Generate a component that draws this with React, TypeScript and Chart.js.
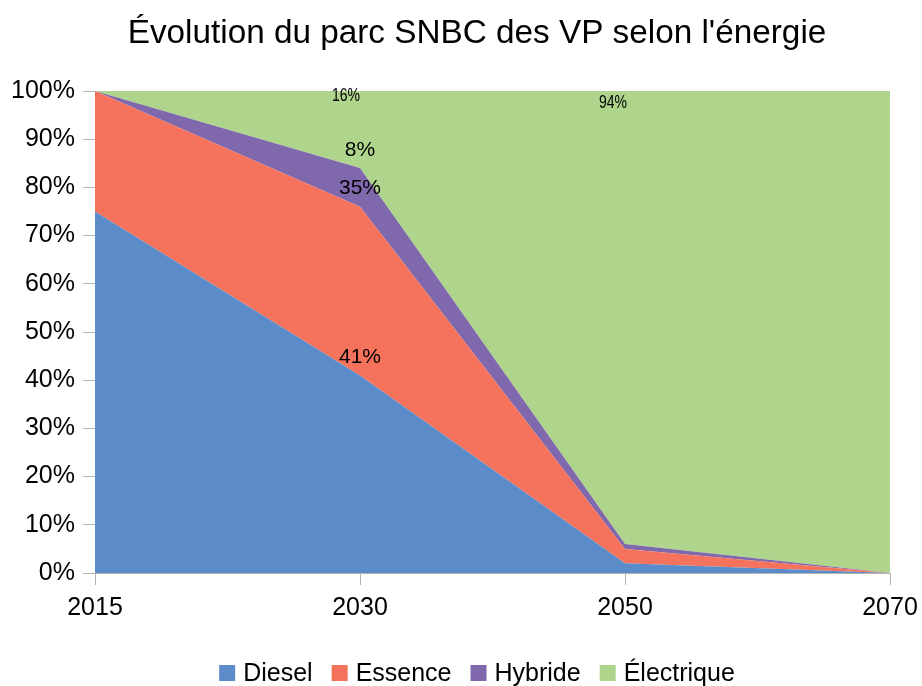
import React, { useEffect, useRef } from 'react';
import { Chart, registerables } from 'chart.js';

Chart.register(...registerables);

const categories = ['2015', '2030', '2050', '2070'];
const diesel = [75, 41, 2, 0];
const essence = [25, 35, 3, 0];
const hybride = [0, 8, 1, 0];
const electrique = [0, 16, 94, 100];
const seriesNames = ['Diesel', 'Essence', 'Hybride', 'Électrique'];
const seriesColors = ['#5b8bc8', '#f5735c', '#8068ad', '#afd58c'];
const titleText = "Évolution du parc SNBC des VP selon l'énergie";

// which values get a label: [datasetIndex, categoryIndex]
const labelPoints = [
  [0, 1],
  [1, 1],
  [2, 1],
  [3, 1],
  [3, 2],
];

const FONT = "'Liberation Sans', Arial, sans-serif";

// placement styles for labels (same order as labelPoints)
const labelStyles = [
  { dx: 0, dy: -18, size: 21, sx: 1 },
  { dx: 0, dy: -18, size: 21, sx: 1 },
  { dx: 0, dy: -18, size: 21, sx: 1 },
  { dx: -14, dy: 5, size: 18, sx: 0.78 },
  { dx: -12, dy: 12, size: 18, sx: 0.78 },
];

const allSeries = [diesel, essence, hybride, electrique];

const labelPlugin = {
  id: 'valueLabels',
  afterDatasetsDraw(chart: any) {
    const ctx = chart.ctx;
    const xs = chart.scales.x;
    const ys = chart.scales.y;
    labelPoints.forEach(([ds, i], k) => {
      let cum = 0;
      for (let d = 0; d <= ds; d++) cum += allSeries[d][i];
      const st = labelStyles[k];
      const x = xs.getPixelForValue(i) + st.dx;
      const y = ys.getPixelForValue(cum) + st.dy;
      ctx.save();
      ctx.translate(x, y);
      ctx.scale(st.sx, 1);
      ctx.textAlign = 'center';
      ctx.textBaseline = 'middle';
      ctx.fillStyle = '#000';
      ctx.font = `${st.size}px ${FONT}`;
      ctx.fillText(allSeries[ds][i] + '%', 0, 0);
      ctx.restore();
    });
  },
};

const titleLegendPlugin = {
  id: 'titleLegend',
  afterDraw(chart: any) {
    const ctx = chart.ctx;
    const cx = 477;
    ctx.save();
    // title
    ctx.fillStyle = '#000';
    ctx.font = `33.3px ${FONT}`;
    ctx.textAlign = 'center';
    ctx.textBaseline = 'alphabetic';
    ctx.fillText(titleText, cx, 43);
    // legend
    ctx.font = `25px ${FONT}`;
    const box = 16;
    const gapText = 8;
    const gapItem = 19;
    const widths = seriesNames.map((n) => ctx.measureText(n).width);
    const total = widths.reduce((a, w) => a + box + gapText + w, 0) + gapItem * (seriesNames.length - 1);
    let x = cx - total / 2;
    const yMid = 673;
    ctx.textAlign = 'left';
    ctx.textBaseline = 'middle';
    seriesNames.forEach((n, idx) => {
      ctx.fillStyle = seriesColors[idx];
      ctx.fillRect(x, yMid - box / 2, box, box);
      x += box + gapText;
      ctx.fillStyle = '#000';
      ctx.fillText(n, x, yMid + 1);
      x += widths[idx] + gapItem;
    });
    ctx.restore();
  },
};

export default function App() {
  const ref = useRef<HTMLCanvasElement>(null);
  useEffect(() => {
    if (!ref.current) return;
    const chart = new Chart(ref.current, {
      type: 'line',
      data: {
        labels: categories,
        datasets: allSeries.map((s, idx) => ({
          label: seriesNames[idx],
          data: s,
          backgroundColor: seriesColors[idx],
          borderColor: seriesColors[idx],
          borderWidth: 0,
          pointRadius: 0,
          tension: 0,
          fill: idx === 0 ? 'origin' : '-1',
        })),
      },
      options: {
        animation: false,
        responsive: true,
        maintainAspectRatio: false,
        layout: { padding: { left: 0, right: 32, top: 91, bottom: 0 } },
        events: [],
        plugins: {
          tooltip: { enabled: false },
          title: { display: false },
          legend: { display: false },
        },
        scales: {
          x: {
            offset: false,
            grid: {
              display: true,
              drawOnChartArea: false,
              drawTicks: true,
              tickLength: 12,
              color: '#b3b3b3',
              offset: false,
            },
            border: { display: true, color: '#b3b3b3' },
            ticks: { color: '#000', font: { family: FONT, size: 25 }, padding: 8, maxRotation: 0 },
            afterFit: (s: any) => {
              s.height = 113;
              s.paddingLeft = 0;
              s.paddingRight = 0;
            },
          },
          y: {
            stacked: true,
            min: 0,
            max: 100,
            grid: {
              display: true,
              drawOnChartArea: false,
              drawTicks: true,
              tickLength: 12,
              color: '#b3b3b3',
            },
            border: { display: true, color: '#b3b3b3' },
            ticks: {
              stepSize: 10,
              color: '#000',
              font: { family: FONT, size: 25 },
              padding: 8,
              callback: (v: any) => v + '%',
            },
            afterFit: (s: any) => { s.width = 95; },
          },
        },
      },
      plugins: [labelPlugin, titleLegendPlugin],
    });
    return () => chart.destroy();
  }, []);
  return (
    <div style={{ position: 'fixed', left: 0, top: 0, width: 922, height: 686 }}>
      <canvas ref={ref} />
    </div>
  );
}
